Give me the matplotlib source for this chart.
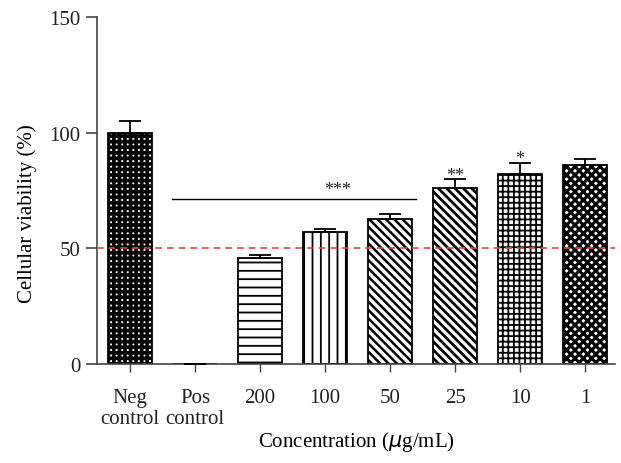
import matplotlib
matplotlib.use("Agg")
from matplotlib import pyplot as plt

plt.rcParams['font.family'] = ['Liberation Serif', 'DejaVu Serif']
plt.rcParams['hatch.linewidth'] = 1.3
plt.rcParams['text.color'] = '#222222'
plt.rcParams['xtick.labelcolor'] = '#222222'
plt.rcParams['ytick.labelcolor'] = '#222222'

labels = ['Neg\ncontrol', 'Pos\ncontrol', '200', '100', '50', '25', '10', '1']
viability = [100, 0, 46, 57, 62.5, 76, 82, 86]
errors = [5, 0, 1, 1.5, 2.5, 4, 5, 2.5]
stars = {5: '**', 6: '*'}
hatches = ['+++', '', '--', '||', '\\\\\\\\', '\\\\\\\\', '+++', 'xxxx']
hatch_lw = [2.6, 1.0, 1.3, 1.3, 1.8, 2.0, 1.3, 2.2]

fig = plt.figure(figsize=(6.21, 4.64), dpi=100)
ax = fig.add_axes([97 / 621, 1 - 365 / 464, (615 - 97) / 621, (365 - 18) / 464])

x = list(range(len(labels)))
bars = ax.bar(x, viability, width=0.68, color='white', edgecolor='black',
              linewidth=1.3, zorder=2)
for b, h, lw in zip(bars, hatches, hatch_lw):
    b.set_hatch(h)
    if hasattr(b, 'set_hatch_linewidth'):
        b.set_hatch_linewidth(lw)
ax.errorbar(x, viability, yerr=[[0] * len(errors), errors], fmt='none',
            ecolor='black', elinewidth=1.3, capsize=8, capthick=1.3, zorder=3)

# threshold and significance marks
ax.axhline(50, color='#e0463c', linestyle=(0, (4, 3)), linewidth=1.2, zorder=4)
ax.plot([0.65, 4.4], [71.5, 71.5], color='black', linewidth=1.0)
ax.text(3.2, 71.6, '***', ha='center', va='bottom', fontsize=13)
for i, s in stars.items():
    ax.text(i, viability[i] + errors[i] - 2, s, ha='center', va='bottom', fontsize=13)

ax.set_xlim(-0.508, 7.46)
ax.set_ylim(0, 150)
ax.set_yticks([0, 50, 100, 150])
ax.set_xticks(x)
ax.set_xticklabels(labels, fontsize=15, linespacing=1.2)
ax.tick_params(axis='y', labelsize=15, length=8, width=1.2, color='#444444', pad=4)
ax.tick_params(axis='x', length=6, width=1.0, color='#444444', pad=11)
for side in ['top', 'right']:
    ax.spines[side].set_visible(False)
ax.spines['left'].set_color('#444444')
ax.spines['bottom'].set_color('#444444')
ax.spines['left'].set_linewidth(1.2)
ax.spines['bottom'].set_linewidth(1.2)

ax.set_ylabel('Cellular viability (%)', fontsize=15)
ax.yaxis.set_label_coords(-0.116, 0.437)
ax.set_xlabel('Concentration ($\\mu$g/mL)', fontsize=15)
ax.xaxis.set_label_coords(0.5, -0.187)

fig.savefig('out.png', dpi=100)
